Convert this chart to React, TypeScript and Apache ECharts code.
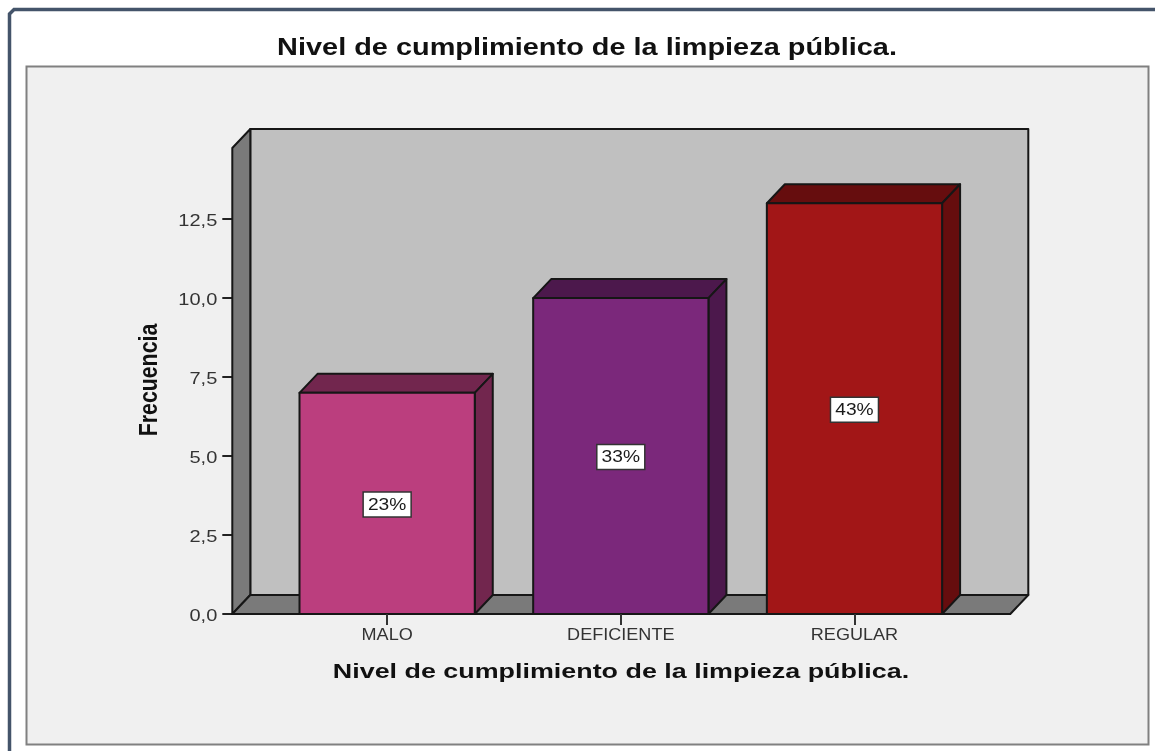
import React, { useEffect, useRef } from "react";
import * as echarts from "echarts";

const categories = ["MALO", "DEFICIENTE", "REGULAR"];
const frequencies = [7, 10, 13];
const percentLabels = ["23%", "33%", "43%"];
const yTicks = [0, 2.5, 5, 7.5, 10, 12.5];
const yMax = 14.75;
const chartTitle = "Nivel de cumplimiento de la limpieza pública.";
const yTitle = "Frecuencia";
const frontColors = ["#bb3e7e", "#7b287b", "#a21617"];
const sideColors = ["#72264e", "#4c184c", "#660d0e"];
const topColors = ["#72264e", "#4c184c", "#660d0e"];

const FONT = "'Liberation Sans', Arial, sans-serif";
const DX = 18;
const DY = -19;
const AXIS_SHIFT = 38;
const LINE = "#161616";

function pts(...p: number[][]) {
  return p.map((q) => [q[0], q[1]]);
}

function renderWalls(params: any, api: any) {
  const cs = params.coordSys;
  const l = cs.x - AXIS_SHIFT;
  const r = cs.x + cs.width + AXIS_SHIFT + 1;
  const b = api.coord([0, 0])[1];
  const t = api.coord([0, yMax])[1];
  const st = (fill: string) => ({ fill, stroke: LINE, lineWidth: 2, lineJoin: "round" });
  return {
    type: "group",
    children: [
      { type: "polygon", shape: { points: pts([l + DX, b + DY], [r + DX, b + DY], [r + DX, t + DY], [l + DX, t + DY]) }, style: st("#c0c0c0") },
      { type: "polygon", shape: { points: pts([l, b], [l + DX, b + DY], [l + DX, t + DY], [l, t]) }, style: st("#7a7a7a") },
      { type: "polygon", shape: { points: pts([l, b], [r, b], [r + DX, b + DY], [l + DX, b + DY]) }, style: st("#7a7a7a") },
    ],
  };
}

function renderBar(params: any, api: any) {
  const i = params.dataIndex;
  const idx = api.value(0);
  const v = api.value(1);
  const w = api.size([1, 0])[0] * 0.75;
  const [cx, yTop] = api.coord([idx, v]);
  const yBase = api.coord([idx, 0])[1];
  const yMid = api.coord([idx, v / 2])[1] + 0.5;
  const x0 = cx - w / 2;
  const x1 = cx + w / 2;
  const st = (fill: string) => ({ fill, stroke: LINE, lineWidth: 2, lineJoin: "round" });
  return {
    type: "group",
    children: [
      { type: "polygon", shape: { points: pts([x0, yTop], [x1, yTop], [x1 + DX, yTop + DY], [x0 + DX, yTop + DY]) }, style: st(topColors[i]) },
      { type: "polygon", shape: { points: pts([x1, yBase], [x1, yTop], [x1 + DX, yTop + DY], [x1 + DX, yBase + DY]) }, style: st(sideColors[i]) },
      { type: "polygon", shape: { points: pts([x0, yBase], [x1, yBase], [x1, yTop], [x0, yTop]) }, style: st(frontColors[i]) },
      { type: "rect", shape: { x: cx - 24, y: yMid - 12, width: 48, height: 25 }, style: { fill: "#ffffff", stroke: "#333333", lineWidth: 1.5 } },
      { type: "text", x: cx, y: yMid + 0.5, scaleX: 1.2, style: { text: percentLabels[i], fill: "#1a1a1a", font: `16px ${FONT}`, textAlign: "center", textVerticalAlign: "middle" } },
    ],
  };
}

function renderXLabel(params: any, api: any) {
  const [cx, y0] = api.coord([api.value(0), 0]);
  return {
    type: "text",
    x: cx,
    y: y0 + 21,
    scaleX: 1.13,
    style: { text: categories[params.dataIndex], fill: "#333", font: `16px ${FONT}`, textAlign: "center", textVerticalAlign: "middle" },
  };
}

function renderYLabel(params: any, api: any) {
  const v = api.value(1);
  const y = api.coord([0, v])[1];
  const cs = params.coordSys;
  return {
    type: "text",
    x: cs.x - AXIS_SHIFT - 15,
    y: y + 1.5,
    scaleX: 1.25,
    style: { text: v.toFixed(1).replace(".", ","), fill: "#333", font: `16px ${FONT}`, textAlign: "right", textVerticalAlign: "middle" },
  };
}

export default function App() {
  const ref = useRef<HTMLDivElement>(null);
  useEffect(() => {
    const chart = echarts.init(ref.current!, undefined, { renderer: "svg" });
    chart.setOption({
      animation: false,
      backgroundColor: "#ffffff",
      grid: { left: 270.3, top: 148, width: 701, height: 466 },
      xAxis: {
        type: "category",
        data: categories,
        axisLine: { show: false },
        axisTick: { show: true, alignWithLabel: true, length: 11, lineStyle: { color: "#333", width: 2 } },
        axisLabel: { show: false },
        z: 10,
      },
      yAxis: {
        type: "value",
        min: 0,
        max: yMax,
        offset: AXIS_SHIFT,
        splitLine: { show: false },
        axisLine: { show: false },
        axisTick: { show: true, length: 10, customValues: yTicks, lineStyle: { color: "#222", width: 2 } },
        axisLabel: { show: false },
      },
      graphic: {
        elements: [
          { type: "rect", z: -10, silent: true, shape: { x: 26.5, y: 66.5, width: 1122, height: 678 }, style: { fill: "#f0f0f0", stroke: "#808080", lineWidth: 2 } },
          { type: "polyline", z: -10, silent: true, shape: { points: [[9.5, 751], [9.5, 14], [14, 9.5], [1155, 9.5]] }, style: { fill: "none", stroke: "#44546a", lineWidth: 3.5 } },
          { type: "text", z: 5, silent: true, x: 587, y: 47.5, scaleX: 1.257, style: { text: chartTitle, fill: "#111", font: `bold 23px ${FONT}`, textAlign: "center", textVerticalAlign: "middle" } },
          { type: "text", z: 5, silent: true, x: 621, y: 670.5, scaleX: 1.28, style: { text: chartTitle, fill: "#111", font: `bold 21px ${FONT}`, textAlign: "center", textVerticalAlign: "middle" } },
          { type: "text", z: 5, silent: true, x: 148, y: 380, rotation: Math.PI / 2, scaleX: 0.82, style: { text: yTitle, fill: "#111", font: `bold 26px ${FONT}`, textAlign: "center", textVerticalAlign: "middle" } },
        ],
      },
      series: [
        { type: "custom", coordinateSystem: "cartesian2d", renderItem: renderWalls, data: [[0, 0]], silent: true, clip: false, z: 1 },
        { type: "custom", coordinateSystem: "cartesian2d", renderItem: renderBar, data: frequencies.map((v, i) => [i, v]), silent: true, clip: false, z: 2 },
        { type: "custom", coordinateSystem: "cartesian2d", renderItem: renderXLabel, data: categories.map((_, i) => [i, 0]), silent: true, clip: false, z: 3 },
        { type: "custom", coordinateSystem: "cartesian2d", renderItem: renderYLabel, data: yTicks.map((v) => [0, v]), silent: true, clip: false, z: 3 },
      ],
    });
    return () => chart.dispose();
  }, []);
  return <div ref={ref} style={{ position: "absolute", left: 0, top: 0, width: 1155, height: 751, filter: "blur(0.4px)" }} />;
}
